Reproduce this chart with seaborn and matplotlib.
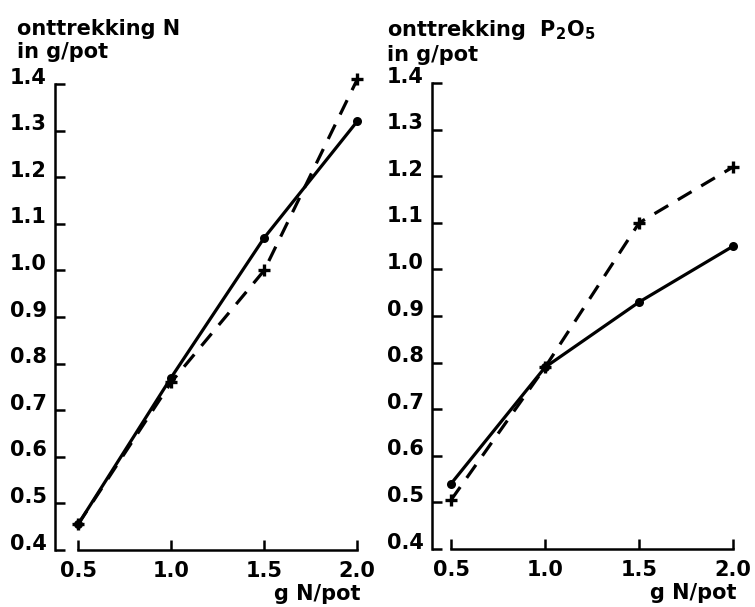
import numpy as np
import pandas as pd
import matplotlib
matplotlib.use("Agg")
import matplotlib.pyplot as plt
import seaborn as sns
from matplotlib.transforms import ScaledTranslation

# gegevens
gift_n = [0.5, 1.0, 1.5, 2.0]
n_doorgetrokken = [0.455, 0.77, 1.07, 1.32]
n_gestreept = [0.455, 0.76, 1.00, 1.41]
p_doorgetrokken = [0.54, 0.79, 0.93, 1.05]
p_gestreept = [0.505, 0.79, 1.10, 1.22]
y_ticks = [0.4, 0.5, 0.6, 0.7, 0.8, 0.9, 1.0, 1.1, 1.2, 1.3, 1.4]
x_ticks = [0.5, 1.0, 1.5, 2.0]

sns.set_style("white")
plt.rcParams["font.family"] = ["DejaVu Sans"]
plt.rcParams["font.weight"] = "bold"
plt.rcParams["text.color"] = "black"

fig = plt.figure(figsize=(7.55, 6.07), dpi=100)
ax1 = fig.add_axes([55 / 755, 1 - 550 / 607, 306 / 755, 466 / 607])
ax2 = fig.add_axes([432 / 755, 1 - 549 / 607, 305 / 755, 466 / 607])

panelen = [
    (ax1, n_doorgetrokken, n_gestreept, "onttrekking N\nin g/pot", 0.376, -0.125),
    (ax2, p_doorgetrokken, p_gestreept, "onttrekking  P$_2$O$_5$\nin g/pot", 0.399, -0.148),
]

for ax, vol, streep, titel, xlinks, tx in panelen:
    sns.lineplot(x=gift_n, y=vol, color="black", linewidth=2.3, marker="o",
                 markersize=6.5, markeredgewidth=0, ax=ax, clip_on=False)
    sns.lineplot(x=gift_n, y=streep, color="black", linewidth=2.3, marker="+",
                 markersize=9, markeredgewidth=2.4, markeredgecolor="black",
                 dashes=(5, 3.5), ax=ax, clip_on=False)
    ax.set_xlim(xlinks, 2.02)
    ax.set_ylim(0.4, 1.4)
    ax.set_xticks(x_ticks)
    ax.set_xticklabels(["%.1f" % v for v in x_ticks], fontsize=15, color="black")
    ax.set_yticks(y_ticks)
    ax.set_yticklabels(["%.1f" % v for v in y_ticks], fontsize=15, color="black")
    ax.tick_params(bottom=True, left=True, direction="in", length=7, width=1.8,
                   color="black", pad=6)
    ax.tick_params(axis="x", pad=8)
    for lab in ax.get_yticklabels():
        lab.set_transform(lab.get_transform() + ScaledTranslation(0, 6 / 72, fig.dpi_scale_trans))
    sns.despine(ax=ax)
    for s in ["left", "bottom"]:
        ax.spines[s].set_linewidth(1.8)
        ax.spines[s].set_color("black")
    ax.spines["bottom"].set_bounds(0.5, 2.0)
    ax.set_xlabel("g N/pot", fontsize=15, fontweight="bold", color="black",
                  loc="right", labelpad=2)
    ax.set_ylabel("")
    ax.text(tx, 1.14, titel, transform=ax.transAxes, fontsize=15,
            fontweight="bold", va="top", ha="left", linespacing=1.2)

fig.savefig("out.png", dpi=100)
